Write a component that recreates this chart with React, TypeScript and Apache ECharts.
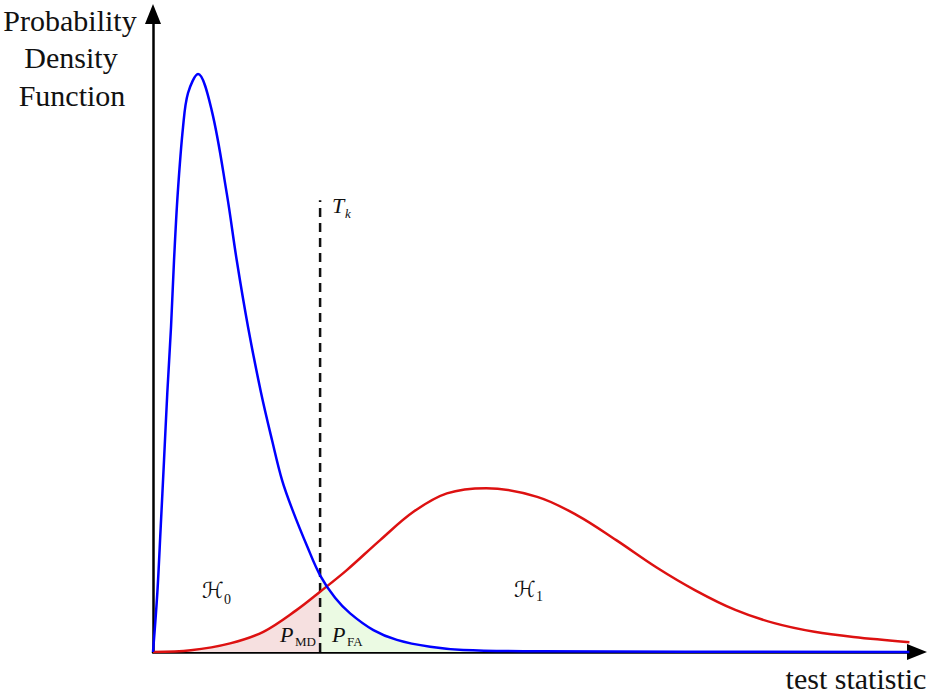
import React, { useEffect, useRef } from "react";
import * as echarts from "echarts";

// H0 curve (blue)
const h0X = [0, 0.057, 0.102, 0.146, 0.189, 0.238, 0.278, 0.327, 0.397, 0.463, 0.595, 0.776, 0.975, 1.107, 1.257, 1.429, 1.574, 1.706, 1.845, 2.042, 2.209, 2.407, 2.606, 2.914, 3.224, 3.664, 4.101, 5.119, 10];
const h0Y = [0, 1.02, 2.17, 3.33, 4.49, 5.63, 6.79, 7.95, 9.1, 9.69, 10.02, 9.39, 7.95, 6.79, 5.63, 4.49, 3.67, 2.98, 2.46, 1.82, 1.33, 0.94, 0.67, 0.38, 0.21, 0.09, 0.035, 0.012, 0];
// H1 curve (red)
const h1X = [0, 0.5, 1.019, 1.459, 1.901, 2.209, 2.562, 3.003, 3.443, 3.885, 4.405, 5.079, 5.608, 6.124, 6.653, 7.169, 7.698, 8.214, 8.743, 9.259, 10];
const h1Y = [0, 0.03, 0.15, 0.35, 0.73, 1.045, 1.42, 1.94, 2.43, 2.75, 2.84, 2.69, 2.37, 1.94, 1.47, 1.07, 0.73, 0.5, 0.35, 0.26, 0.17];
// detection threshold T_k
const thresholdX = 2.209;
const thresholdTop = 7.83;

const xMax = 10.1;
const yMax = 11.06;

export default function App() {
  const ref = useRef<HTMLDivElement>(null);
  useEffect(() => {
    if (!ref.current) return;
    const chart = echarts.init(ref.current, undefined, { renderer: "svg" });
    const blue = h0X.map((x, i) => [x, h0Y[i]]);
    const red = h1X.map((x, i) => [x, h1Y[i]]);
    const pink = red.filter((p) => p[0] <= thresholdX);
    const green = blue.filter((p) => p[0] >= thresholdX);
    const serif = "'Liberation Serif', 'Times New Roman', serif";
    const txt = (text: string, x: number, y: number, size: number, opts: any = {}) => ({
      type: "text",
      x,
      y,
      z: 100,
      style: {
        text,
        fontFamily: opts.family || serif,
        fontSize: size,
        fontStyle: opts.italic ? "italic" : "normal",
        fill: "#111",
        align: opts.align || "left",
        verticalAlign: "middle",
      },
    });
    chart.setOption({
      animation: false,
      backgroundColor: "#fff",
      grid: { left: 153, right: 18, top: 14, bottom: 43, outerBoundsMode: "none", containLabel: false },
      xAxis: {
        type: "value",
        min: 0,
        max: xMax,
        axisLine: { show: true, onZero: false, symbol: ["none", "triangle"], symbolSize: [16, 20], lineStyle: { color: "#000", width: 2.5 } },
        axisTick: { show: false },
        axisLabel: { show: false },
        splitLine: { show: false },
      },
      yAxis: {
        type: "value",
        min: 0,
        max: yMax,
        axisLine: { show: true, onZero: false, symbol: ["none", "triangle"], symbolSize: [16, 20], lineStyle: { color: "#000", width: 2.5 } },
        axisTick: { show: false },
        axisLabel: { show: false },
        splitLine: { show: false },
      },
      series: [
        {
          type: "line",
          data: pink,
          smooth: 0.35,
          showSymbol: false,
          lineStyle: { width: 0 },
          areaStyle: { color: "#f6e0e0", opacity: 1 },
          z: 1,
        },
        {
          type: "line",
          data: green,
          smooth: 0.35,
          showSymbol: false,
          lineStyle: { width: 0 },
          areaStyle: { color: "#ebfae3", opacity: 1 },
          z: 1,
        },
        {
          type: "line",
          data: [[thresholdX, 0], [thresholdX, thresholdTop]],
          showSymbol: false,
          lineStyle: { color: "#111", width: 2.5, type: [9, 6] },
          z: 2,
        },
        {
          type: "line",
          data: red,
          smooth: 0.35,
          showSymbol: false,
          clip: false,
          lineStyle: { color: "#dd1111", width: 2.5 },
          z: 3,
        },
        {
          type: "line",
          data: blue,
          smooth: 0.35,
          showSymbol: false,
          clip: false,
          lineStyle: { color: "#0000ff", width: 2.5 },
          z: 4,
        },
      ],
      graphic: [
        txt("Probability", 70, 20, 30, { align: "center" }),
        txt("Density", 71, 57, 30, { align: "center" }),
        txt("Function", 72, 95, 30, { align: "center" }),
        txt("test statistic", 856, 678, 30, { align: "center" }),
        txt("ℋ", 202, 590, 22, { family: "'DejaVu Sans', sans-serif" }),
        txt("0", 224, 599, 14),
        txt("ℋ", 514, 589, 22, { family: "'DejaVu Sans', sans-serif" }),
        txt("1", 536, 596, 14),
        txt("P", 280, 634, 22, { italic: true }),
        txt("MD", 295, 641, 13),
        txt("P", 332, 634, 22, { italic: true }),
        txt("FA", 347, 641, 13),
        txt("T", 332, 205, 22, { italic: true }),
        txt("k", 345, 213, 13, { italic: true }),
      ],
    });
    return () => chart.dispose();
  }, []);
  return <div ref={ref} style={{ width: 935, height: 695, position: "fixed", left: 0, top: 0 }} />;
}
